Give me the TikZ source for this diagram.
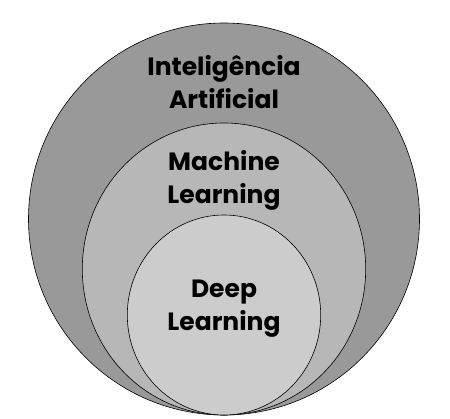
\documentclass[tikz,border=0pt]{standalone}
\usepackage{fontspec}
\setmainfont{Poppins}
\begin{document}
\begin{tikzpicture}[x=1pt,y=-1pt,
  ring/.style={draw=black,line width=0.6pt},
  lbl/.style={font=\fontsize{25}{33}\selectfont\bfseries,align=center,anchor=base,inner sep=0pt}]
\useasboundingbox (0,0) rectangle (450,419);
\definecolor{ai}{RGB}{153,153,153}
\definecolor{ml}{RGB}{183,183,183}
\definecolor{dl}{RGB}{204,204,204}
\draw[ring,fill=ai] (224,219) ellipse [x radius=195.5,y radius=196];
\draw[ring,fill=ml] (224,269) ellipse [x radius=141.7,y radius=146];
\draw[ring,fill=dl] (224,315) ellipse [x radius=96.7,y radius=100];
\node[lbl] (ai) at (224,108.3) {Inteligência\\Artificial};
\node[lbl] (ml) at (224,204) {Machine\\Learning};
\node[lbl] (dl) at (224,330.7) {Deep\\Learning};
\end{tikzpicture}
\end{document}
